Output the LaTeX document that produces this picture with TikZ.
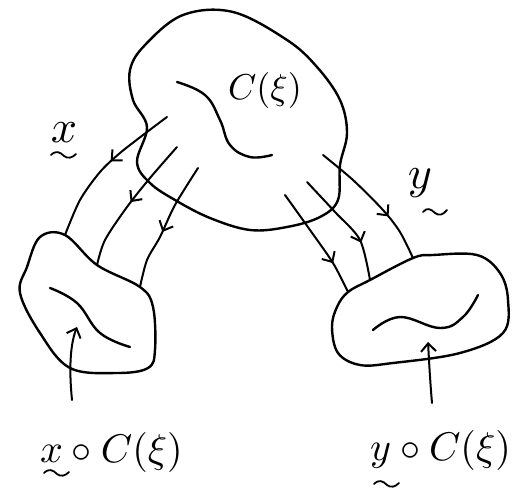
\documentclass[tikz,border=0pt]{standalone}
\usepackage{graphicx}
\usetikzlibrary{arrows.meta,decorations.markings}
\begin{document}
\begin{tikzpicture}[x=1pt,y=-1pt,line cap=round,line join=round,
  blob/.style={line width=2.4pt},
  wig/.style={line width=2.4pt},
  squig/.style={line width=1.8pt},
  flow/.style={line width=2pt, postaction={decorate},
    decoration={markings, mark=at position #1 with {\arrow{Straight Barb[length=8pt,width=15pt,line width=2pt]}}}},
  uparr/.style={line width=2pt, -{Straight Barb[length=8pt,width=15pt,line width=2pt]}},
  lab/.style={inner sep=0pt}]
\useasboundingbox (0,0) rectangle (522,498);
% top blob
\draw[blob] plot[smooth cycle, tension=0.6] coordinates {(183,15) (233,12) (287,40) (317,67) (340,100) (347,133) (340,165) (338,200) (320,217) (287,227) (250,230) (210,218) (175,200) (150,183) (137,162) (147,127) (133,100) (130,70) (145,45)};
\draw[wig] plot[smooth, tension=0.7] coordinates {(177,82) (205,95) (220,120) (230,145) (250,157) (272,155)};
\node[lab] (cxi) at (265,90) {\scalebox{3.6}{$C(\xi)$}};
% left blob
\draw[blob] plot[smooth cycle, tension=0.6] coordinates {(40,237) (65,235) (97,265) (140,287) (153,307) (155,350) (148,368) (117,373) (70,368) (40,333) (20,293) (27,267)};
\draw[wig] plot[smooth, tension=0.7] coordinates {(50,288) (77,303) (100,333) (130,347)};
% right blob
\draw[blob] plot[smooth cycle, tension=0.6] coordinates {(413,258) (433,255) (477,255) (500,273) (508,300) (503,333) (460,353) (393,363) (360,365) (338,353) (332,327) (337,307) (348,292) (370,280)};
\draw[wig] plot[smooth, tension=0.7] coordinates {(373,330) (400,317) (440,328) (463,317) (478,295)};
% flows x
\draw[flow=0.45] plot[smooth] coordinates {(167,117) (147,132) (120,153) (100,172) (80,200) (65,235)};
\draw[flow=0.5] plot[smooth] coordinates {(177,147) (150,178) (127,207) (105,240) (97,265)};
\draw[flow=0.55] plot[smooth] coordinates {(198,168) (175,205) (160,237) (147,260) (140,287)};
% flows y
\draw[flow=0.65] plot[smooth] coordinates {(323,155) (353,180) (383,210) (400,232) (413,258)};
\draw[flow=0.68] plot[smooth] coordinates {(307,182) (335,212) (360,240) (370,280)};
\draw[flow=0.72] plot[smooth] coordinates {(285,195) (310,230) (333,263) (348,292)};
% map labels
\node[lab] (xl) at (64,133) {\scalebox{4.6}{$x$}};
\draw[squig] (51,155) .. controls (56,150) and (60,152) .. (64,156) .. controls (68,159) and (72,158) .. (76,154);
\node[lab] (yl) at (420,183) {\scalebox{4.6}{$y$}};
\draw[squig] (423,212) .. controls (427,207) and (431,209) .. (435,213) .. controls (439,216) and (443,215) .. (447,210);
% arrows to images
\coordinate (xa0) at (72,400);
\coordinate (xa1) at (77,327);
\coordinate (ya0) at (432,403);
\coordinate (ya1) at (428,342);
\draw[uparr] (xa0) .. controls (69,370) and (70,345) .. (xa1);
\draw[uparr] (ya0) .. controls (430,380) and (429,360) .. (ya1);
% bottom labels
\node[lab, anchor=base west] (xc) at (40,462) {\scalebox{4}{$x\circ C(\xi)$}};
\draw[squig] (44,473) .. controls (49,468) and (53,470) .. (57,474) .. controls (61,477) and (65,476) .. (69,472);
\node[lab, anchor=base west] (yc) at (370,460) {\scalebox{4}{$y\circ C(\xi)$}};
\draw[squig] (374,484) .. controls (379,479) and (383,481) .. (387,485) .. controls (391,488) and (395,487) .. (399,483);
\end{tikzpicture}
\end{document}
